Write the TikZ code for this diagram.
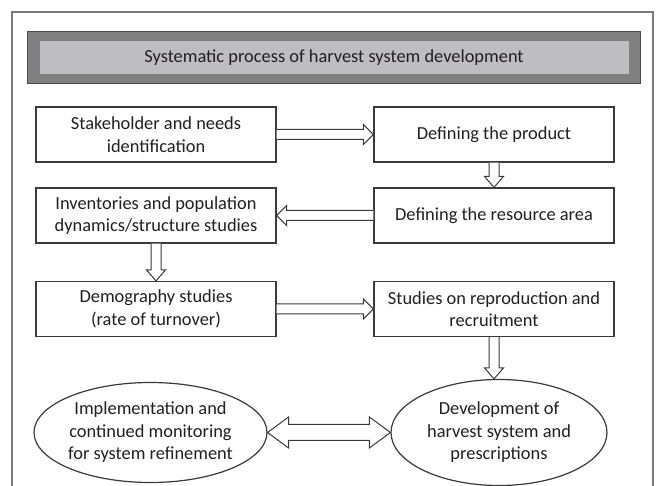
\documentclass[tikz,border=0pt]{standalone}
\usepackage{fontspec}
\setmainfont{Carlito}
\usetikzlibrary{calc,shapes.geometric}
\definecolor{linec}{HTML}{3A3A3A}
\definecolor{framec}{HTML}{7A7A7A}
\definecolor{titleo}{HTML}{808080}
\definecolor{titleb}{HTML}{4A4A4A}
\definecolor{titlei}{HTML}{BEBEC0}
\definecolor{txtc}{HTML}{231F20}
\newcommand{\rarr}[2]{\draw[arr] ($(#1)+(0,-5)$) -- ($(#2)+(-10,-5)$) -- ($(#2)+(-10,-10)$) -- (#2) -- ($(#2)+(-10,10)$) -- ($(#2)+(-10,5)$) -- ($(#1)+(0,5)$);}
\newcommand{\larr}[2]{\draw[arr] ($(#1)+(0,-5)$) -- ($(#2)+(10,-5)$) -- ($(#2)+(10,-10)$) -- (#2) -- ($(#2)+(10,10)$) -- ($(#2)+(10,5)$) -- ($(#1)+(0,5)$);}
\newcommand{\darr}[2]{\draw[arr] ($(#1)+(-5,0)$) -- ($(#2)+(-5,-11)$) -- ($(#2)+(-9.5,-11)$) -- (#2) -- ($(#2)+(9.5,-11)$) -- ($(#2)+(5,-11)$) -- ($(#1)+(5,0)$);}
\begin{document}
\begin{tikzpicture}[x=1pt,y=-1pt,
  txt/.style={font=\fontsize{18.4}{22.5}\selectfont, text=txtc, align=center},
  box/.style={txt, draw=linec, line width=1.2pt, fill=white, minimum width=240, minimum height=55, inner sep=0pt},
  ell/.style={txt, ellipse, draw=linec, line width=1.2pt, fill=white, inner sep=0pt},
  arr/.style={draw=linec, line width=1pt, fill=white, line join=miter}]
\useasboundingbox (0,0) rectangle (657,486);
\fill[white] (0,0) rectangle (657,486);
\draw[framec, line width=1.2pt] (12,492) -- (12,12) -- (653,12) -- (653,492);
\node[draw=titleb, line width=1.5pt, fill=titleo, minimum width=613, minimum height=52, inner sep=0pt] (tb) at (334,57.5) {};
\node[txt, fill=titlei, minimum width=589, minimum height=33, inner sep=0pt] (title) at (tb.center) {Systematic process of harvest system development};
\node[box] (b1) at (156,134.5) {Stakeholder and needs\\identification};
\node[box] (b2) at (494,134.5) {Defining the product};
\node[box] (b3) at (156,215.5) {Inventories and population\\dynamics/structure studies};
\node[box] (b4) at (494,215.5) {Defining the resource area};
\node[box] (b5) at (156,309) {Demography studies\\(rate of turnover)};
\node[box] (b6) at (494,309) {Studies on reproduction and\\recruitment};
\node[ell, minimum width=213, minimum height=100] (e1) at (150.5,432.5) {Implementation and\\continued monitoring\\for system refinement};
\node[ell, minimum width=216, minimum height=106] (e2) at (499,432.5) {Development of\\harvest system and\\prescriptions};
\coordinate (t6) at (b6.south |- e2.north);
\rarr{b1.east}{b2.west}
\darr{b2.south}{b4.north}
\larr{b4.west}{b3.east}
\darr{b3.south}{b5.north}
\rarr{b5.east}{b6.west}
\darr{b6.south}{t6}
\draw[arr] (e1.east) -- ($(e1.east)+(21,-15.5)$) -- ($(e1.east)+(21,-8)$) -- ($(e2.west)+(-21,-8)$) -- ($(e2.west)+(-21,-15.5)$) -- (e2.west) -- ($(e2.west)+(-21,15.5)$) -- ($(e2.west)+(-21,8)$) -- ($(e1.east)+(21,8)$) -- ($(e1.east)+(21,15.5)$) -- cycle;
\end{tikzpicture}
\end{document}
